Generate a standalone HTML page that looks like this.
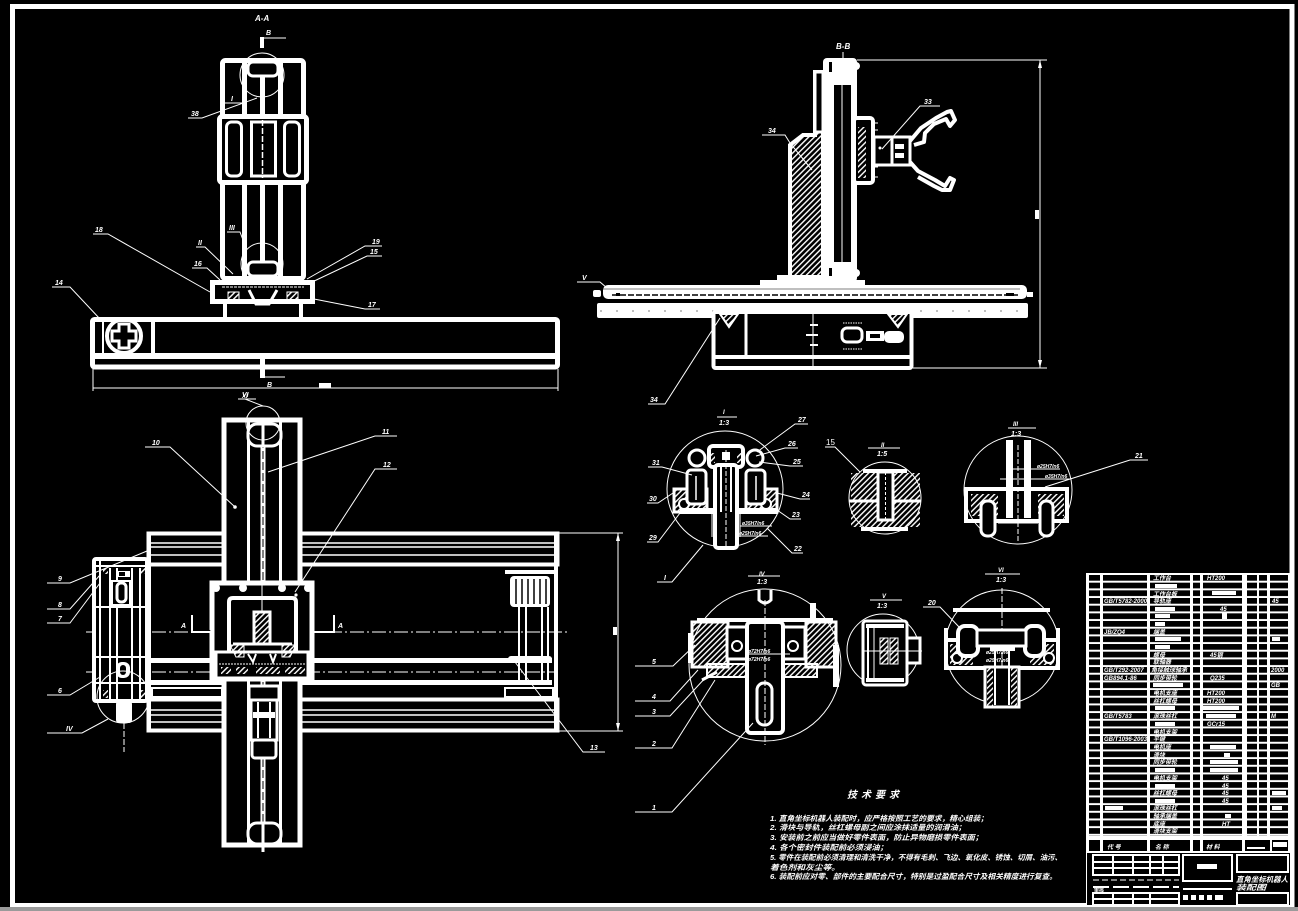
<!DOCTYPE html>
<html><head><meta charset="utf-8"><style>
html,body{margin:0;padding:0;background:#000;}
svg{display:block;}
text{font-family:"Liberation Sans","Noto Sans CJK SC",sans-serif;font-style:italic;font-weight:bold;fill:#fff;}
.c{font-family:"Liberation Sans","Noto Sans CJK SC",sans-serif;}
</style></head><body>
<svg width="1298" height="911" viewBox="0 0 1298 911" xmlns="http://www.w3.org/2000/svg">
<defs>
<pattern id="h" patternUnits="userSpaceOnUse" width="4" height="4" patternTransform="rotate(45)"><rect width="1.4" height="4" fill="#fff"/></pattern>
<pattern id="rb" patternUnits="userSpaceOnUse" x="0" y="575" width="10" height="7.67"><rect width="10" height="5.7" fill="#000"/></pattern>
</defs>
<rect width="1298" height="911" fill="#000"/>
<rect x="12.5" y="6.5" width="1279.5" height="899" fill="none" stroke="#fff" stroke-width="5"/>
<rect x="0" y="907" width="1298" height="4" fill="#9a9a9a"/>

<!-- ============ VIEW A-A ============ -->
<text x="255" y="21" font-size="8">A-A</text>
<line x1="262" y1="37" x2="262" y2="48" stroke="#fff" stroke-width="4"/>
<line x1="264" y1="38" x2="286" y2="38" stroke="#fff" stroke-width="1"/>
<text x="266" y="35" font-size="7">B</text>
<g fill="none" stroke="#fff" stroke-width="5">
<rect x="222.5" y="60.5" width="81" height="218" rx="3"/>
<line x1="244.5" y1="62" x2="244.5" y2="278"/>
<line x1="280.5" y1="62" x2="280.5" y2="278"/>
</g>
<rect x="260" y="66" width="5" height="202" fill="#fff"/>
<rect x="248" y="62" width="30" height="14" rx="5" fill="#000" stroke="#fff" stroke-width="3"/>
<circle cx="262" cy="75" r="22" fill="none" stroke="#fff" stroke-width="1"/>
<circle cx="262" cy="264" r="21" fill="none" stroke="#fff" stroke-width="1"/>
<rect x="248" y="262" width="30" height="14" rx="5" fill="#000" stroke="#fff" stroke-width="3"/>
<rect x="219.5" y="116.5" width="87" height="66" rx="3" fill="#000" stroke="#fff" stroke-width="5"/>
<rect x="226.5" y="122" width="15" height="54" rx="5" fill="none" stroke="#fff" stroke-width="3"/>
<rect x="251.5" y="122" width="24" height="54" fill="none" stroke="#fff" stroke-width="3"/>
<rect x="284.5" y="122" width="15" height="54" rx="5" fill="none" stroke="#fff" stroke-width="3"/>
<line x1="262.5" y1="120" x2="262.5" y2="178" stroke="#fff" stroke-width="1.5" stroke-dasharray="6,2"/>
<!-- base -->
<rect x="212.5" y="282.5" width="100" height="19" fill="#000" stroke="#fff" stroke-width="5"/>
<line x1="222" y1="287" x2="304" y2="287" stroke="#fff" stroke-width="1" stroke-dasharray="3,1"/>
<rect x="225" y="302" width="76" height="18" fill="#000" stroke="#fff" stroke-width="4"/>
<rect x="228" y="292" width="11" height="11" fill="url(#h)" stroke="#fff" stroke-width="1"/>
<rect x="287" y="292" width="11" height="11" fill="url(#h)" stroke="#fff" stroke-width="1"/>
<path d="M249 290 L256 304 L269 304 L277 290" fill="none" stroke="#fff" stroke-width="3"/>
<!-- beam -->
<rect x="92.5" y="319.5" width="465" height="47.5" rx="2" fill="none" stroke="#fff" stroke-width="5"/>
<line x1="93" y1="356" x2="557" y2="356" stroke="#fff" stroke-width="6"/>
<line x1="153" y1="320" x2="153" y2="354" stroke="#fff" stroke-width="4"/>
<line x1="103" y1="320" x2="103" y2="354" stroke="#fff" stroke-width="2"/>
<circle cx="124" cy="336" r="17" fill="none" stroke="#fff" stroke-width="4"/>
<path d="M119 324 h10 v7 h7 v10 h-7 v7 h-10 v-7 h-7 v-10 h7 z" fill="none" stroke="#fff" stroke-width="3"/>
<rect x="260" y="358" width="5" height="20" fill="#fff"/>
<line x1="265" y1="377" x2="285" y2="377" stroke="#fff" stroke-width="1"/>
<text x="267" y="387" font-size="7">B</text>
<line x1="93" y1="388" x2="558" y2="388" stroke="#fff" stroke-width="1"/>
<line x1="93" y1="369" x2="93" y2="391" stroke="#fff" stroke-width="1"/>
<line x1="558" y1="369" x2="558" y2="391" stroke="#fff" stroke-width="1"/>
<rect x="319" y="383" width="12" height="5" fill="#fff"/>
<text x="242" y="398" font-size="6">XI</text>
<line x1="238" y1="399" x2="256" y2="399" stroke="#fff" stroke-width="1"/>
<!-- A-A leaders -->
<g stroke="#fff" stroke-width="1" fill="none">
<polyline points="93,234 108,234 210,292"/>
<polyline points="52,287 70,287 100,319"/>
<polyline points="188,118 202,118 257,98"/>
<polyline points="225,103 243,103"/>
<polyline points="227,232 240,232 246,248"/>
<polyline points="196,247 205,247 233,274"/>
<polyline points="192,268 207,268 220,280"/>
<polyline points="382,246 365,246 307,279"/>
<polyline points="382,256 367,256 310,283"/>
<polyline points="380,309 365,309 314,299"/>
</g>
<g font-size="7">
<text x="95" y="232">18</text><text x="55" y="285">14</text><text x="191" y="116">38</text>
<text x="231" y="101">I</text><text x="229" y="230">III</text><text x="198" y="245">II</text>
<text x="194" y="266">16</text><text x="372" y="244">19</text><text x="370" y="254">15</text><text x="368" y="307">17</text>
</g>

<!-- ============ VIEW B-B ============ -->
<text x="836" y="49" font-size="8">B-B</text>
<line x1="843" y1="52" x2="843" y2="58" stroke="#fff" stroke-width="1"/>
<!-- hatched block -->
<polygon points="815,72 823,72 823,282 790,282 790,145 803,135 815,135" fill="url(#h)" stroke="#fff" stroke-width="4"/>
<rect x="815" y="72" width="8" height="60" fill="#000" stroke="#fff" stroke-width="3"/>
<!-- column -->
<rect x="823" y="58" width="34" height="224" rx="4" fill="#fff"/>
<rect x="834" y="85" width="17" height="177" fill="#000"/>
<line x1="842" y1="85" x2="842" y2="262" stroke="#fff" stroke-width="1"/>
<rect x="829" y="62" width="3" height="10" fill="#000"/><rect x="829" y="268" width="3" height="8" fill="#000"/>
<circle cx="856" cy="66" r="4" fill="#fff"/><circle cx="856" cy="273" r="4" fill="#fff"/>
<!-- gripper -->
<rect x="854" y="118" width="19" height="65" rx="3" fill="#000" stroke="#fff" stroke-width="4"/>
<rect x="858" y="127" width="8" height="51" fill="url(#h)"/>
<g stroke="#fff" stroke-width="1"><line x1="873" y1="123" x2="878" y2="123"/><line x1="873" y1="130" x2="878" y2="130"/><line x1="873" y1="167" x2="878" y2="167"/><line x1="873" y1="177" x2="878" y2="177"/></g>
<rect x="874" y="137" width="36" height="28" fill="#000" stroke="#fff" stroke-width="3"/>
<line x1="892" y1="137" x2="892" y2="165" stroke="#fff" stroke-width="3"/>
<circle cx="880" cy="148" r="1.5" fill="#fff"/>
<rect x="895" y="144" width="9" height="5" fill="#fff"/><rect x="895" y="153" width="9" height="5" fill="#fff"/>
<g fill="none" stroke="#fff" stroke-width="4" stroke-linejoin="round">
<polyline points="910,141 921,128 936,118 947,112 951,111 955,120 950,126 946,119 934,124 925,133 924,142 914,145"/>
<polyline points="910,162 918,171 935,180 945,186 950,178 954,180 950,190 942,190 934,186 918,177"/>
</g>
<!-- rail -->
<rect x="760" y="280" width="105" height="10" fill="#fff"/>
<rect x="777" y="275" width="46" height="6" fill="#fff"/>
<rect x="603" y="285" width="424" height="14" rx="5" fill="#fff"/>
<line x1="612" y1="295" x2="1020" y2="295" stroke="#000" stroke-width="1.5" stroke-dasharray="6,2"/>
<line x1="603" y1="289" x2="1020" y2="289" stroke="#000" stroke-width="0.6"/>
<rect x="597" y="303" width="431" height="15" rx="2" fill="#fff"/>
<line x1="600" y1="311" x2="1025" y2="311" stroke="#000" stroke-width="0.6" stroke-dasharray="2,14"/>
<rect x="593" y="290" width="8" height="7" rx="2" fill="#fff"/>
<rect x="1027" y="292" width="6" height="5" fill="#fff"/>
<rect x="616" y="293" width="4" height="3" fill="#000"/><rect x="1006" y="293" width="8" height="3" fill="#000"/>
<!-- lower box -->
<rect x="713.5" y="312" width="198" height="56" rx="2" fill="#000" stroke="#fff" stroke-width="4"/>
<line x1="714" y1="357" x2="911" y2="357" stroke="#fff" stroke-width="4"/>
<line x1="746" y1="314" x2="746" y2="355" stroke="#fff" stroke-width="3"/>
<polygon points="720,314 738,314 729,327" fill="url(#h)" stroke="#fff" stroke-width="2"/>
<polygon points="888,314 907,314 898,327" fill="url(#h)" stroke="#fff" stroke-width="2"/>
<line x1="813" y1="312" x2="813" y2="370" stroke="#fff" stroke-width="1"/>
<g stroke="#fff" stroke-width="2"><line x1="810" y1="325" x2="818" y2="325"/><line x1="806" y1="335" x2="818" y2="335"/><line x1="810" y1="345" x2="818" y2="345"/></g>
<rect x="842" y="328" width="20" height="14" rx="5" fill="#000" stroke="#fff" stroke-width="3"/>
<line x1="843" y1="323" x2="862" y2="323" stroke="#fff" stroke-width="1" stroke-dasharray="1.5,1"/>
<line x1="843" y1="349" x2="862" y2="349" stroke="#fff" stroke-width="1" stroke-dasharray="1.5,1"/>
<rect x="866" y="331" width="18" height="10" fill="#fff"/>
<rect x="870" y="334" width="10" height="4" fill="#000"/>
<rect x="884" y="331" width="20" height="12" rx="5" fill="#fff"/>
<!-- dim -->
<g stroke="#fff" stroke-width="1">
<line x1="857" y1="60" x2="1047" y2="60"/><line x1="913" y1="368" x2="1047" y2="368"/>
<line x1="1040" y1="60" x2="1040" y2="368"/>
</g>
<polygon points="1040,60 1038,68 1042,68" fill="#fff"/><polygon points="1040,368 1038,360 1042,360" fill="#fff"/>
<rect x="1035" y="210" width="4" height="9" fill="#fff"/>
<g stroke="#fff" stroke-width="1" fill="none">
<polyline points="940,106 920,106 882,149"/>
<polyline points="762,135 785,135 790,143 812,170"/>
<polyline points="577,282 600,282 607,288"/>
<polyline points="648,404 665,404 720,318"/>
</g>
<g font-size="7"><text x="924" y="104">33</text><text x="768" y="133">34</text><text x="582" y="280">V</text><text x="650" y="402">34</text></g>

<!-- ============ PLAN VIEW ============ -->
<!-- horizontal beam -->
<rect x="147" y="532" width="412" height="200" fill="#000" stroke="none"/>
<rect x="148.5" y="533.5" width="409" height="31" fill="none" stroke="#fff" stroke-width="4"/>
<rect x="148.5" y="699.5" width="409" height="31" fill="none" stroke="#fff" stroke-width="4"/>
<g stroke="#fff" stroke-width="1.5">
<line x1="150" y1="543" x2="556" y2="543"/><line x1="150" y1="547" x2="556" y2="547"/><line x1="150" y1="555" x2="556" y2="555"/>
<line x1="150" y1="710" x2="556" y2="710"/><line x1="150" y1="715" x2="556" y2="715"/><line x1="150" y1="722" x2="556" y2="722"/>
</g>
<line x1="149" y1="533" x2="149" y2="731" stroke="#fff" stroke-width="4"/>
<line x1="556" y1="533" x2="556" y2="731" stroke="#fff" stroke-width="4"/>
<line x1="147" y1="660.5" x2="552" y2="660.5" stroke="#fff" stroke-width="5"/>
<line x1="147" y1="682.5" x2="552" y2="682.5" stroke="#fff" stroke-width="5"/>
<rect x="152" y="688" width="70" height="9" fill="none" stroke="#fff" stroke-width="2"/>
<rect x="505" y="688" width="48" height="9" fill="none" stroke="#fff" stroke-width="2"/>
<!-- right pulley -->
<line x1="505" y1="572" x2="555" y2="572" stroke="#fff" stroke-width="4"/>
<rect x="510" y="576" width="40" height="31" rx="4" fill="#fff"/>
<g stroke="#000" stroke-width="1.5"><line x1="516" y1="579" x2="516" y2="604"/><line x1="522" y1="579" x2="522" y2="604"/><line x1="528" y1="579" x2="528" y2="604"/><line x1="534" y1="579" x2="534" y2="604"/><line x1="540" y1="579" x2="540" y2="604"/><line x1="546" y1="579" x2="546" y2="604"/></g>
<g stroke="#fff" stroke-width="2"><line x1="519" y1="607" x2="519" y2="683"/><line x1="526" y1="607" x2="526" y2="683"/><line x1="542" y1="607" x2="542" y2="683"/><line x1="548" y1="607" x2="548" y2="683"/></g>
<rect x="508" y="656" width="44" height="7" rx="3" fill="#fff"/>
<!-- centerline -->
<line x1="86" y1="632" x2="568" y2="632" stroke="#fff" stroke-width="1" stroke-dasharray="14,3,2,3"/>
<line x1="86" y1="672" x2="556" y2="672" stroke="#fff" stroke-width="1" stroke-dasharray="14,3,2,3"/>
<!-- left block -->
<rect x="94" y="559" width="53" height="142" rx="2" fill="#000" stroke="#fff" stroke-width="4"/>
<g stroke="#fff" stroke-width="2">
<line x1="96" y1="566" x2="146" y2="566"/><line x1="96" y1="607" x2="146" y2="607"/><line x1="96" y1="657" x2="146" y2="657"/><line x1="96" y1="683" x2="146" y2="683"/>
<line x1="100" y1="561" x2="100" y2="699"/><line x1="110" y1="568" x2="110" y2="699"/><line x1="117" y1="568" x2="117" y2="699"/><line x1="132" y1="568" x2="132" y2="699"/><line x1="140" y1="568" x2="140" y2="699"/>
</g>
<rect x="103" y="568" width="5" height="6" fill="url(#h)"/><rect x="141" y="568" width="5" height="6" fill="url(#h)"/>
<rect x="103" y="690" width="5" height="8" fill="url(#h)"/><rect x="141" y="690" width="5" height="8" fill="url(#h)"/>
<rect x="112" y="581" width="18" height="24" fill="#000" stroke="#fff" stroke-width="2"/>
<rect x="117" y="583" width="9" height="19" rx="4" fill="#000" stroke="#fff" stroke-width="3"/>
<rect x="116" y="571" width="14" height="6" fill="#fff"/><rect x="119" y="572" width="6" height="4" fill="#000"/>
<rect x="116" y="662" width="14" height="16" rx="6" fill="#fff"/><rect x="120" y="665" width="6" height="10" rx="3" fill="#000"/>
<circle cx="123" cy="697" r="26" fill="none" stroke="#fff" stroke-width="1"/>
<rect x="116" y="701" width="16" height="22" rx="3" fill="#fff"/>
<line x1="124" y1="723" x2="124" y2="752" stroke="#fff" stroke-width="1" stroke-dasharray="6,2"/>
<!-- vertical beam -->
<rect x="224" y="420" width="76" height="425" fill="#000" stroke="#fff" stroke-width="5"/>
<line x1="248.5" y1="422" x2="248.5" y2="843" stroke="#fff" stroke-width="3"/>
<line x1="280.5" y1="422" x2="280.5" y2="843" stroke="#fff" stroke-width="3"/>
<line x1="263" y1="440" x2="263" y2="828" stroke="#fff" stroke-width="5"/>
<line x1="263" y1="440" x2="263" y2="828" stroke="#000" stroke-width="1" stroke-dasharray="8,3"/>
<rect x="248" y="424" width="33" height="22" rx="9" fill="#000" stroke="#fff" stroke-width="3"/>
<line x1="263" y1="424" x2="263" y2="446" stroke="#fff" stroke-width="3"/>
<rect x="248" y="823" width="33" height="21" rx="9" fill="#000" stroke="#fff" stroke-width="3"/>
<line x1="263" y1="823" x2="263" y2="852" stroke="#fff" stroke-width="3"/>
<circle cx="263" cy="423" r="17" fill="none" stroke="#fff" stroke-width="1"/>
<circle cx="235" cy="507" r="1.8" fill="#fff"/>
<!-- lower motor in vertical beam -->
<rect x="249" y="686" width="30" height="14" fill="#000" stroke="#fff" stroke-width="3"/>
<rect x="251" y="700" width="26" height="40" fill="#000" stroke="#fff" stroke-width="3"/>
<line x1="258" y1="702" x2="258" y2="738" stroke="#fff" stroke-width="2"/><line x1="270" y1="702" x2="270" y2="738" stroke="#fff" stroke-width="2"/>
<rect x="253" y="712" width="22" height="6" fill="#fff"/>
<rect x="252" y="740" width="24" height="18" rx="3" fill="#000" stroke="#fff" stroke-width="3"/>
<!-- carriage -->
<rect x="212" y="583" width="100" height="96" fill="#000" stroke="#fff" stroke-width="5"/>
<circle cx="216" cy="588" r="4" fill="#fff"/><circle cx="243" cy="588" r="4" fill="#fff"/><circle cx="282" cy="588" r="4" fill="#fff"/><circle cx="308" cy="588" r="4" fill="#fff"/>
<circle cx="296" cy="595" r="1.6" fill="#fff"/>
<path d="M229 655 V602 Q229 598 233 598 H292 Q296 598 296 602 V655" fill="none" stroke="#fff" stroke-width="4"/>
<line x1="262" y1="585" x2="262" y2="612" stroke="#fff" stroke-width="1"/>
<rect x="254" y="612" width="16" height="32" fill="url(#h)" stroke="#fff" stroke-width="3"/>
<rect x="216" y="652" width="92" height="26" fill="#000" stroke="#fff" stroke-width="3"/>
<line x1="233" y1="644" x2="292" y2="644" stroke="#fff" stroke-width="3"/>
<polygon points="230,645 244,645 244,657 236,657" fill="url(#h)" stroke="#fff" stroke-width="1"/>
<polygon points="282,645 296,645 290,657 282,657" fill="url(#h)" stroke="#fff" stroke-width="1"/>
<path d="M248 654 L253 662 L256 654 M270 654 L273 662 L276 654" stroke="#fff" stroke-width="2" fill="none"/>
<rect x="221" y="667" width="10" height="7" fill="url(#h)"/><rect x="236" y="667" width="12" height="7" fill="url(#h)"/>
<rect x="256" y="667" width="24" height="7" fill="url(#h)"/><rect x="285" y="667" width="20" height="7" fill="url(#h)"/>
<line x1="219" y1="664" x2="306" y2="664" stroke="#fff" stroke-width="1" stroke-dasharray="2,1"/>
<!-- A markers -->
<g stroke="#fff" stroke-width="2"><polyline points="192,615 192,632 212,632"/><polyline points="334,615 334,632 314,632"/></g>
<text x="181" y="628" font-size="7">A</text><text x="338" y="628" font-size="7">A</text>
<!-- dim -->
<g stroke="#fff" stroke-width="1">
<line x1="559" y1="533" x2="623" y2="533"/><line x1="559" y1="731" x2="623" y2="731"/>
<line x1="618" y1="533" x2="618" y2="731"/>
</g>
<polygon points="618,533 616,541 620,541" fill="#fff"/><polygon points="618,731 616,723 620,723" fill="#fff"/>
<rect x="613" y="627" width="4" height="8" fill="#fff"/>
<!-- plan leaders -->
<g stroke="#fff" stroke-width="1" fill="none">
<polyline points="145,447 170,447 235,507"/>
<polyline points="397,436 375,436 268,472"/>
<polyline points="397,469 375,469 295,592"/>
<polyline points="47,583 70,583 147,551"/>
<polyline points="47,609 70,609 100,575"/>
<polyline points="47,623 70,623 100,583"/>
<polyline points="47,695 70,695 100,677"/>
<polyline points="47,733 82,733 108,719"/>
<polyline points="605,752 583,752 515,662"/>
<polyline points="245,399 263,406"/>
</g>
<g font-size="7">
<text x="152" y="445">10</text><text x="382" y="434">11</text><text x="383" y="467">12</text>
<text x="58" y="581">9</text><text x="58" y="607">8</text><text x="58" y="621">7</text><text x="58" y="693">6</text>
<text x="66" y="731">IV</text><text x="590" y="750">13</text><text x="242" y="397">VI</text>
</g>
<g stroke="#fff" stroke-width="1"><line x1="635" y1="666" x2="648" y2="666"/><line x1="635" y1="701" x2="648" y2="701"/><line x1="635" y1="716" x2="648" y2="716"/><line x1="635" y1="748" x2="648" y2="748"/><line x1="635" y1="812" x2="648" y2="812"/></g>

<!-- ============ DETAIL I ============ -->
<text x="723" y="414" font-size="6">I</text>
<line x1="717" y1="417" x2="737" y2="417" stroke="#fff" stroke-width="1"/>
<text x="719" y="425" font-size="7">1:3</text>
<circle cx="725" cy="489" r="58" fill="none" stroke="#fff" stroke-width="1"/>
<rect x="674" y="489" width="33" height="23" fill="url(#h)" stroke="#fff" stroke-width="3"/>
<rect x="746" y="489" width="31" height="23" fill="url(#h)" stroke="#fff" stroke-width="3"/>
<rect x="680" y="508" width="97" height="6" fill="#fff"/>
<circle cx="684" cy="504" r="5" fill="#000" stroke="#fff" stroke-width="2"/>
<circle cx="766" cy="504" r="5" fill="#000" stroke="#fff" stroke-width="2"/>
<rect x="687" y="470" width="19" height="34" rx="4" fill="#000" stroke="#fff" stroke-width="3"/>
<rect x="746" y="470" width="19" height="34" rx="4" fill="#000" stroke="#fff" stroke-width="3"/>
<line x1="696" y1="476" x2="696" y2="500" stroke="#fff" stroke-width="1.5"/><line x1="756" y1="476" x2="756" y2="500" stroke="#fff" stroke-width="1.5"/>
<circle cx="697" cy="458" r="8" fill="#000" stroke="#fff" stroke-width="3"/>
<circle cx="755" cy="458" r="8" fill="#000" stroke="#fff" stroke-width="3"/>
<rect x="709" y="446" width="34" height="21" rx="4" fill="#000" stroke="#fff" stroke-width="4"/>
<rect x="715" y="465" width="22" height="83" rx="3" fill="#000" stroke="#fff" stroke-width="4"/>
<line x1="721" y1="467" x2="721" y2="512" stroke="#fff" stroke-width="2"/><line x1="731" y1="467" x2="731" y2="512" stroke="#fff" stroke-width="2"/>
<line x1="726" y1="450" x2="726" y2="548" stroke="#fff" stroke-width="1" stroke-dasharray="5,2"/>
<rect x="722" y="452" width="8" height="8" fill="#fff"/>
<rect x="711" y="453" width="4" height="10" fill="url(#h)"/><rect x="737" y="453" width="4" height="10" fill="url(#h)"/>
<g stroke="#fff" stroke-width="1"><line x1="712" y1="514" x2="712" y2="537"/><line x1="740" y1="526" x2="772" y2="526"/><line x1="737" y1="536" x2="768" y2="536"/><line x1="740" y1="514" x2="740" y2="537"/></g>
<text x="742" y="525" font-size="5">ø35H7/n6</text><text x="739" y="535" font-size="5">ø25H7/n6</text>
<g stroke="#fff" stroke-width="1" fill="none">
<polyline points="808,424 795,424 757,452"/>
<polyline points="798,448 785,448 756,456"/>
<polyline points="803,466 790,466 759,462"/>
<polyline points="648,467 662,467 692,475"/>
<polyline points="647,503 658,503 673,493"/>
<polyline points="810,499 800,499 777,493"/>
<polyline points="801,519 790,519 777,510"/>
<polyline points="647,542 658,542 680,513"/>
<polyline points="803,553 792,553 767,528"/>
<polyline points="657,582 672,582 703,545"/>
</g>
<g font-size="7">
<text x="798" y="422">27</text><text x="788" y="446">26</text><text x="793" y="464">25</text><text x="652" y="465">31</text>
<text x="649" y="501">30</text><text x="802" y="497">24</text><text x="792" y="517">23</text><text x="649" y="540">29</text>
<text x="794" y="551">22</text><text x="664" y="580">I</text>
</g>

<!-- ============ DETAIL II ============ -->
<text x="881" y="447" font-size="6">II</text>
<line x1="868" y1="448" x2="900" y2="448" stroke="#fff" stroke-width="1"/>
<text x="877" y="456" font-size="7">1:5</text>
<circle cx="885" cy="498" r="36" fill="none" stroke="#fff" stroke-width="1"/>
<rect x="851" y="473" width="27" height="28" fill="url(#h)"/>
<rect x="893" y="473" width="27" height="28" fill="url(#h)"/>
<rect x="851" y="502" width="69" height="25" fill="url(#h)"/>
<line x1="849" y1="501" x2="921" y2="501" stroke="#fff" stroke-width="3"/>
<line x1="863" y1="471" x2="907" y2="471" stroke="#fff" stroke-width="4"/>
<line x1="861" y1="529" x2="908" y2="529" stroke="#fff" stroke-width="4"/>
<rect x="878" y="472" width="15" height="48" fill="#000" stroke="#fff" stroke-width="3"/>
<line x1="885.5" y1="472" x2="885.5" y2="520" stroke="#fff" stroke-width="1" stroke-dasharray="3,2"/>
<polyline points="825,447 835,447 860,472" stroke="#fff" stroke-width="1" fill="none"/>
<text x="826" y="445" font-size="8" style="font-style:normal;font-weight:normal">15</text>

<!-- ============ DETAIL III ============ -->
<text x="1013" y="426" font-size="6">III</text>
<line x1="1008" y1="428" x2="1036" y2="428" stroke="#fff" stroke-width="1"/>
<text x="1011" y="436" font-size="7">1:3</text>
<circle cx="1018" cy="490" r="54" fill="none" stroke="#fff" stroke-width="1"/>
<rect x="1006" y="440" width="7" height="78" fill="#fff"/>
<rect x="1024" y="440" width="7" height="78" fill="#fff"/>
<line x1="1018" y1="445" x2="1018" y2="542" stroke="#fff" stroke-width="1" stroke-dasharray="5,2"/>
<rect x="966" y="489" width="101" height="32" fill="none" stroke="#fff" stroke-width="4"/>
<rect x="971" y="494" width="27" height="22" fill="url(#h)"/>
<rect x="1038" y="494" width="26" height="22" fill="url(#h)"/>
<rect x="981" y="501" width="14" height="35" rx="6" fill="#000" stroke="#fff" stroke-width="3"/>
<rect x="1040" y="501" width="13" height="35" rx="6" fill="#000" stroke="#fff" stroke-width="3"/>
<line x1="998" y1="522" x2="1038" y2="522" stroke="#fff" stroke-width="3"/>
<line x1="1010" y1="469" x2="1060" y2="469" stroke="#fff" stroke-width="1"/>
<line x1="1000" y1="479" x2="1070" y2="479" stroke="#fff" stroke-width="1"/>
<text x="1037" y="468" font-size="5">ø25H7/n6</text><text x="1045" y="478" font-size="5">ø35H7/n6</text>
<polyline points="1148,460 1130,460 1045,487" stroke="#fff" stroke-width="1" fill="none"/>
<text x="1135" y="458" font-size="7">21</text>

<!-- ============ DETAIL IV ============ -->
<text x="759" y="576" font-size="6">IV</text>
<line x1="748" y1="576" x2="780" y2="576" stroke="#fff" stroke-width="1"/>
<text x="757" y="584" font-size="7">1:3</text>
<circle cx="765" cy="665" r="76" fill="none" stroke="#fff" stroke-width="1"/>
<path d="M759 590 V600 Q765 606 771 600 V590" fill="none" stroke="#fff" stroke-width="3"/>
<rect x="692" y="622" width="36" height="45" fill="url(#h)" stroke="#fff" stroke-width="3"/>
<rect x="806" y="622" width="30" height="45" fill="url(#h)" stroke="#fff" stroke-width="3"/>
<line x1="697" y1="620" x2="833" y2="620" stroke="#fff" stroke-width="4"/>
<rect x="707" y="664" width="110" height="13" fill="url(#h)" stroke="#fff" stroke-width="2"/>
<rect x="727" y="627" width="22" height="32" fill="#000" stroke="#fff" stroke-width="3"/>
<rect x="783" y="627" width="22" height="32" fill="#000" stroke="#fff" stroke-width="3"/>
<circle cx="737" cy="646" r="5" fill="#000" stroke="#fff" stroke-width="2"/>
<circle cx="793" cy="646" r="5" fill="#000" stroke="#fff" stroke-width="2"/>
<rect x="747" y="622" width="36" height="111" rx="4" fill="#000" stroke="#fff" stroke-width="4"/>
<rect x="757" y="683" width="15" height="42" rx="7" fill="none" stroke="#fff" stroke-width="3"/>
<line x1="765" y1="600" x2="765" y2="745" stroke="#fff" stroke-width="1" stroke-dasharray="6,2"/>
<line x1="702" y1="680" x2="717" y2="672" stroke="#fff" stroke-width="3"/>
<rect x="810" y="603" width="6" height="18" fill="#fff"/>
<rect x="833" y="645" width="6" height="42" fill="#fff"/>
<rect x="688" y="633" width="5" height="30" fill="#fff"/>
<line x1="747" y1="654" x2="790" y2="654" stroke="#fff" stroke-width="1"/>
<text x="748" y="653" font-size="5">ø72H7/n6</text><text x="748" y="661" font-size="5">ø72H7/n6</text>
<g stroke="#fff" stroke-width="1" fill="none">
<polyline points="648,666 673,666 695,645"/>
<polyline points="648,701 670,701 698,670"/>
<polyline points="648,716 670,716 707,676"/>
<polyline points="648,748 672,748 715,680"/>
<polyline points="648,812 672,812 753,723"/>
</g>
<g font-size="7"><text x="652" y="664">5</text><text x="652" y="699">4</text><text x="652" y="714">3</text><text x="652" y="746">2</text><text x="652" y="810">1</text></g>

<!-- ============ DETAIL V ============ -->
<text x="882" y="598" font-size="6">V</text>
<line x1="870" y1="600" x2="902" y2="600" stroke="#fff" stroke-width="1"/>
<text x="877" y="608" font-size="7">1:3</text>
<circle cx="883" cy="650" r="36" fill="none" stroke="#fff" stroke-width="1"/>
<rect x="863" y="621" width="44" height="64" rx="3" fill="#000" stroke="#fff" stroke-width="3"/>
<rect x="907" y="638" width="13" height="25" fill="#000" stroke="#fff" stroke-width="3"/>
<line x1="868" y1="628" x2="868" y2="678" stroke="#fff" stroke-width="2"/>
<line x1="874" y1="628" x2="874" y2="678" stroke="#fff" stroke-width="1"/>
<rect x="880" y="638" width="8" height="26" fill="url(#h)" stroke="#fff" stroke-width="1"/>
<rect x="890" y="638" width="8" height="26" fill="url(#h)" stroke="#fff" stroke-width="1"/>
<line x1="862" y1="651" x2="922" y2="651" stroke="#fff" stroke-width="1"/>
<rect x="866" y="624" width="38" height="4" fill="#fff"/><rect x="866" y="678" width="38" height="4" fill="#fff"/>

<!-- ============ DETAIL VI ============ -->
<text x="998" y="572" font-size="6">VI</text>
<line x1="985" y1="574" x2="1020" y2="574" stroke="#fff" stroke-width="1"/>
<text x="996" y="582" font-size="7">1:3</text>
<circle cx="1002" cy="647" r="57" fill="none" stroke="#fff" stroke-width="1"/>
<line x1="953" y1="610" x2="1050" y2="610" stroke="#fff" stroke-width="4"/>
<line x1="1002" y1="588" x2="1002" y2="705" stroke="#fff" stroke-width="1" stroke-dasharray="6,2"/>
<path d="M946 640 V628 M1058 640 V628" stroke="#fff" stroke-width="4"/>
<rect x="946" y="640" width="112" height="28" fill="none" stroke="#fff" stroke-width="4"/>
<rect x="950" y="644" width="23" height="21" fill="url(#h)"/>
<rect x="1030" y="644" width="24" height="21" fill="url(#h)"/>
<circle cx="957" cy="658" r="5" fill="#000" stroke="#fff" stroke-width="2"/><circle cx="1049" cy="658" r="5" fill="#000" stroke="#fff" stroke-width="2"/>
<rect x="958" y="626" width="20" height="30" rx="7" fill="#000" stroke="#fff" stroke-width="4"/>
<rect x="1025" y="626" width="19" height="30" rx="7" fill="#000" stroke="#fff" stroke-width="4"/>
<rect x="977" y="630" width="49" height="16" fill="#000" stroke="#fff" stroke-width="3"/>
<rect x="985" y="667" width="34" height="40" fill="#000" stroke="#fff" stroke-width="3"/>
<rect x="987" y="668" width="6" height="38" fill="url(#h)"/><rect x="1011" y="668" width="6" height="38" fill="url(#h)"/>
<line x1="995" y1="648" x2="995" y2="705" stroke="#fff" stroke-width="2"/><line x1="1009" y1="648" x2="1009" y2="705" stroke="#fff" stroke-width="2"/>
<rect x="990" y="647" width="25" height="4" fill="#fff"/>
<text x="986" y="654" font-size="5">ø25H7/n6</text><text x="986" y="662" font-size="5">ø25H7/n6</text>
<polyline points="923,607 940,607 960,628" stroke="#fff" stroke-width="1" fill="none"/>
<text x="928" y="605" font-size="7">20</text>

<!-- ============ TECH REQ ============ -->
<text x="847" y="798" font-size="10" letter-spacing="4">技术要求</text>
<g font-size="7.5">
<text x="770" y="821" textLength="218" lengthAdjust="spacingAndGlyphs">1. 直角坐标机器人装配时，应严格按照工艺的要求，精心组装；</text>
<text x="770" y="830" textLength="196" lengthAdjust="spacingAndGlyphs">2. 滑块与导轨，丝杠螺母副之间应涂抹适量的润滑油；</text>
<text x="770" y="840" textLength="213" lengthAdjust="spacingAndGlyphs">3. 安装前之前应当做好零件表面，防止异物磨损零件表面；</text>
<text x="770" y="850" textLength="118" lengthAdjust="spacingAndGlyphs">4. 各个密封件装配前必须浸油；</text>
<text x="770" y="860" textLength="292" lengthAdjust="spacingAndGlyphs">5. 零件在装配前必须清理和清洗干净，不得有毛刺、飞边、氧化皮、锈蚀、切屑、油污、</text>
<text x="770" y="870" textLength="70" lengthAdjust="spacingAndGlyphs">着色剂和灰尘等。</text>
<text x="770" y="879" textLength="287" lengthAdjust="spacingAndGlyphs">6. 装配前应对零、部件的主要配合尺寸，特别是过盈配合尺寸及相关精度进行复查。</text>
</g>

<!-- ============ TABLE ============ -->
<rect x="1086" y="573" width="204" height="333" fill="#fff"/>
<g fill="url(#rb)">
<rect x="1089" y="575" width="11" height="261"/>
<rect x="1103" y="575" width="44" height="261"/>
<rect x="1150" y="575" width="40" height="261"/>
<rect x="1193" y="575" width="7" height="261"/>
<rect x="1203" y="575" width="39" height="261"/>
<rect x="1247" y="575" width="10" height="261"/>
<rect x="1259" y="575" width="8" height="261"/>
<rect x="1270" y="575" width="18" height="261"/>
</g>
<g font-size="6" style="font-style:normal">
<text x="1153" y="580">工作台</text><text x="1207" y="580">HT200</text>
<rect x="1155" y="584" width="22" height="4" fill="#fff"/>
<text x="1153" y="596">工作台板</text><rect x="1212" y="591" width="24" height="4" fill="#fff"/>
<text x="1104" y="603">GB/T5782-2000</text><text x="1153" y="603">导轨座</text><text x="1272" y="603">45</text>
<rect x="1155" y="607" width="20" height="4" fill="#fff"/><text x="1220" y="611">45</text>
<rect x="1155" y="614" width="15" height="4" fill="#fff"/><rect x="1222" y="613" width="5" height="6" fill="#fff"/>
<rect x="1155" y="622" width="10" height="4" fill="#fff"/>
<text x="1104" y="634">JB/ZQ4</text><text x="1153" y="634">端盖</text>
<rect x="1155" y="637" width="26" height="4" fill="#fff"/><rect x="1272" y="637" width="8" height="4" fill="#fff"/>
<rect x="1155" y="645" width="15" height="4" fill="#fff"/>
<text x="1153" y="657">螺母</text><text x="1210" y="657">45钢</text>
<text x="1153" y="664">联轴器</text>
<text x="1104" y="672">GB/T292-2007</text><text x="1151" y="672">角接触球轴承</text><text x="1271" y="672">2000</text>
<text x="1104" y="680">GB894.1-86</text><text x="1153" y="680">同步带轮</text><text x="1210" y="680">Q235</text>
<rect x="1153" y="683" width="30" height="4" fill="#fff"/><text x="1271" y="687">GB</text>
<text x="1153" y="695">电机支座</text><text x="1207" y="695">HT200</text>
<text x="1153" y="703">丝杠螺母</text><text x="1207" y="703">HT200</text>
<rect x="1155" y="706" width="20" height="4" fill="#fff"/><rect x="1203" y="706" width="36" height="4" fill="#fff"/>
<text x="1104" y="718">GB/T5783</text><text x="1153" y="718">滚珠丝杠</text><rect x="1206" y="714" width="30" height="4" fill="#fff"/><text x="1271" y="718">M</text>
<rect x="1155" y="722" width="20" height="4" fill="#fff"/><text x="1207" y="726">GCr15</text>
<text x="1153" y="734">电机支架</text>
<text x="1104" y="741">GB/T1096-2003</text><text x="1153" y="741">平键</text>
<text x="1153" y="749">电机座</text><rect x="1210" y="745" width="26" height="4" fill="#fff"/>
<text x="1153" y="757">滑块</text><rect x="1224" y="753" width="6" height="4" fill="#fff"/>
<text x="1153" y="764">同步带轮</text><rect x="1210" y="760" width="28" height="4" fill="#fff"/>
<rect x="1155" y="768" width="20" height="4" fill="#fff"/><rect x="1210" y="768" width="28" height="4" fill="#fff"/>
<text x="1153" y="780">电机支架</text><text x="1222" y="780">45</text>
<rect x="1155" y="784" width="20" height="4" fill="#fff"/><text x="1222" y="788">45</text>
<text x="1153" y="795">丝杠螺母</text><text x="1222" y="795">45</text><rect x="1272" y="791" width="14" height="4" fill="#fff"/>
<rect x="1155" y="799" width="20" height="4" fill="#fff"/><text x="1222" y="803">45</text>
<rect x="1105" y="806" width="18" height="4" fill="#fff"/><text x="1153" y="810">滚珠丝杠</text><rect x="1272" y="806" width="10" height="4" fill="#fff"/>
<text x="1153" y="818">轴承端盖</text><rect x="1225" y="814" width="6" height="4" fill="#fff"/>
<text x="1153" y="826">底座</text><text x="1222" y="826">HT</text>
<text x="1153" y="833">滑块支架</text>
</g>
<!-- header row -->
<rect x="1089" y="840" width="11" height="11" fill="#000"/>
<rect x="1103" y="840" width="44" height="11" fill="#000"/>
<rect x="1150" y="840" width="40" height="11" fill="#000"/>
<rect x="1193" y="840" width="7" height="11" fill="#000"/>
<rect x="1203" y="840" width="39" height="11" fill="#000"/>
<rect x="1245" y="840" width="25" height="11" fill="#000"/>
<rect x="1272" y="840" width="16" height="11" fill="#000"/>
<line x1="1247" y1="848" x2="1265" y2="848" stroke="#fff" stroke-width="2"/>
<rect x="1273" y="842" width="14" height="5" fill="#fff"/>
<g font-size="6" style="font-style:normal"><text x="1107" y="849">代  号</text><text x="1155" y="849">名  称</text><text x="1206" y="849">材  料</text></g>
<!-- title block -->
<rect x="1087" y="853" width="203" height="52" fill="#000"/>
<g fill="none" stroke="#fff" stroke-width="2">
<rect x="1093" y="855" width="86" height="20"/>
<line x1="1093" y1="862" x2="1179" y2="862"/><line x1="1093" y1="868" x2="1179" y2="868"/>
<line x1="1113" y1="855" x2="1113" y2="875"/><line x1="1133" y1="855" x2="1133" y2="875"/><line x1="1150" y1="855" x2="1150" y2="875"/><line x1="1163" y1="855" x2="1163" y2="875"/>
<rect x="1093" y="893" width="86" height="12"/>
<line x1="1093" y1="899" x2="1179" y2="899"/><line x1="1113" y1="893" x2="1113" y2="905"/><line x1="1133" y1="893" x2="1133" y2="905"/><line x1="1150" y1="893" x2="1150" y2="905"/>
<rect x="1183" y="855" width="49" height="26"/>
<rect x="1237" y="855" width="51" height="17"/>
<rect x="1237" y="893" width="51" height="12"/>
</g>
<line x1="1093" y1="880" x2="1179" y2="880" stroke="#fff" stroke-width="1" stroke-dasharray="6,3"/>
<line x1="1093" y1="887" x2="1179" y2="887" stroke="#fff" stroke-width="2" stroke-dasharray="16,4"/>
<rect x="1197" y="864" width="20" height="5" fill="#fff"/>
<line x1="1183" y1="889" x2="1232" y2="889" stroke="#fff" stroke-width="2"/>
<rect x="1183" y="895" width="5" height="5" fill="#fff"/><rect x="1191" y="895" width="5" height="5" fill="#fff"/><rect x="1199" y="895" width="5" height="5" fill="#fff"/><rect x="1207" y="895" width="5" height="5" fill="#fff"/><rect x="1215" y="895" width="8" height="5" fill="#fff"/>
<text x="1094" y="892" font-size="5" style="font-style:normal">审核</text>
<text x="1236" y="882" font-size="7.5" textLength="52" lengthAdjust="spacingAndGlyphs">直角坐标机器人</text>
<text x="1236" y="890" font-size="7.5" textLength="30" lengthAdjust="spacingAndGlyphs">装配图</text>
</svg>
</body></html>
